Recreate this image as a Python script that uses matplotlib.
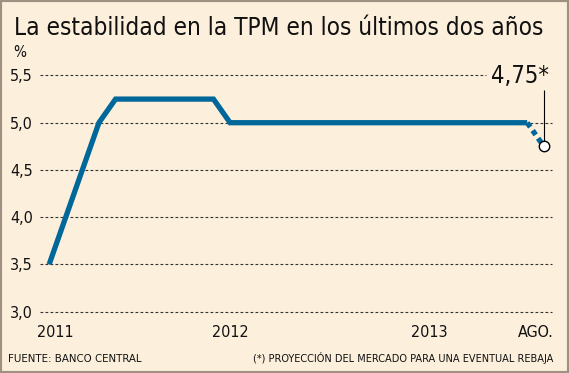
import matplotlib
matplotlib.use("Agg")
import matplotlib.pyplot as plt
from matplotlib.patches import Rectangle

# TPM (%), x in months counted from Jan 2011
months = [1.1, 4.1, 5.1, 11.0, 12.0, 29.9]
tpm = [3.5, 5.0, 5.25, 5.25, 5.0, 5.0]
proj_months = [29.9, 30.9]
proj_tpm = [5.0, 4.75]

yticks = [3.0, 3.5, 4.0, 4.5, 5.0, 5.5]
ytick_labels = ["3,0", "3,5", "4,0", "4,5", "5,0", "5,5"]
xticks = [1.45, 12.0, 24.0, 30.4]
xtick_labels = ["2011", "2012", "2013", "AGO."]

bg = "#fcefdc"
blue = "#00679a"
plt.rcParams['font.family'] = ['DejaVu Sans']
plt.rcParams['font.stretch'] = 'condensed'

fig = plt.figure(figsize=(5.69, 3.73), dpi=100)
fig.patch.set_facecolor(bg)
fig.patches.append(Rectangle((0, 0), 1, 1, transform=fig.transFigure,
                             fill=False, edgecolor="#a09082", linewidth=3))

ax = fig.add_axes([0.0703, 0.1646, 0.900, 0.6330])
ax.set_facecolor(bg)
ax.set_xlim(0.55, 31.4)
ax.set_ylim(3.0, 5.5)
for s in ax.spines.values():
    s.set_visible(False)

# dashed gridlines, the top one stops before the label
for y in yticks:
    xmax = 0.87 if y == 5.5 else 1.0
    ax.axhline(y, xmin=0, xmax=xmax, color="#333333", linewidth=0.8,
               linestyle=(0, (2.5, 2)), zorder=1, clip_on=False)

ax.plot(months, tpm, color=blue, linewidth=3.8, solid_joinstyle="miter",
        solid_capstyle="butt", zorder=3, clip_on=False)
ax.plot(proj_months, proj_tpm, color=blue, linewidth=3.8,
        linestyle=(0, (1, 0.8)), zorder=3, clip_on=False)
ax.plot(proj_months[-1:], proj_tpm[-1:], marker="o", markersize=7.5,
        markerfacecolor="white", markeredgecolor="black", markeredgewidth=1,
        linestyle="none", zorder=4, clip_on=False)

# pointer line and label of the projected value
ax.vlines(proj_months[-1], proj_tpm[-1] + 0.05, 5.35, color="black",
          linewidth=0.8, zorder=2)
ax.text(proj_months[-1] + 0.3, 5.37, "4,75*", ha="right", va="bottom",
        fontsize=17, color="#111111")

ax.set_yticks(yticks)
ax.set_yticklabels(ytick_labels, fontsize=11.5, color="#111111")
ax.set_xticks(xticks)
ax.set_xticklabels(xtick_labels, fontsize=11.5, color="#111111")
ax.tick_params(axis="both", length=0)
ax.tick_params(axis="y", pad=5)
ax.tick_params(axis="x", pad=10)

fig.text(0.025, 0.905, "La estabilidad en la TPM en los últimos dos años",
         fontsize=17.5, color="#111111", ha="left", va="baseline")
fig.text(0.035, 0.858, "%", fontsize=11, color="#111111", ha="center",
         va="center")
fig.text(0.014, 0.03, "FUENTE: BANCO CENTRAL", fontsize=8.2,
         color="#111111", ha="left", va="baseline")
fig.text(0.972, 0.03,
         "(*) PROYECCIÓN DEL MERCADO PARA UNA EVENTUAL REBAJA",
         fontsize=7.8, color="#111111", ha="right", va="baseline")

fig.savefig("out.png", dpi=100, facecolor=bg)
